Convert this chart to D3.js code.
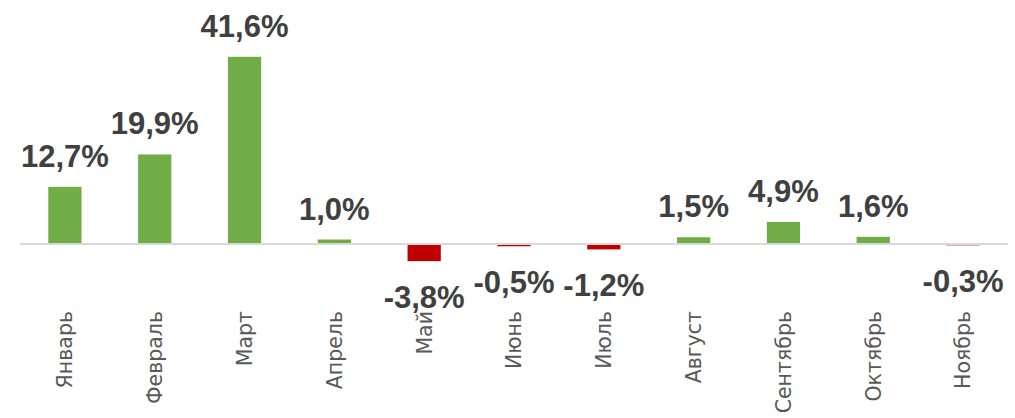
<!DOCTYPE html>
<html>
<head>
<meta charset="utf-8">
<script src="https://cdn.jsdelivr.net/npm/d3@7"></script>
<style>
  body { margin: 0; background: #fff; }
  .lbl { font-family: "Liberation Sans", Arial, sans-serif; font-weight: bold; font-size: 31px; fill: #404040; }
  .cat { font-family: "DejaVu Sans", sans-serif; font-size: 20.5px; fill: #595959; }
</style>
</head>
<body>
<div id="chart"></div>
<script>
"use strict";
// months and monthly change, %
var months = ["Январь", "Февраль", "Март", "Апрель", "Май", "Июнь", "Июль", "Август", "Сентябрь", "Октябрь", "Ноябрь"];
var values = [12.7, 19.9, 41.6, 1.0, -3.8, -0.5, -1.2, 1.5, 4.9, 1.6, -0.3];
var labels = ["12,7%", "19,9%", "41,6%", "1,0%", "-3,8%", "-0,5%", "-1,2%", "1,5%", "4,9%", "1,6%", "-0,3%"];

var w = 1015, h = 418;

var svg = d3.select("#chart").append("svg")
  .attr("width", w)
  .attr("height", h);

var x = d3.scaleBand()
  .domain(months)
  .range([20, 1008])
  .paddingInner(0.63)
  .paddingOuter(0.315);

var y = d3.scaleLinear()
  .domain([-5, 45])
  .range([266.5, 41.5]);

// bars
svg.append("g").selectAll("rect")
  .data(values)
  .enter().append("rect")
  .attr("x", function(d, i) { return x(months[i]); })
  .attr("width", x.bandwidth())
  .attr("y", function(d) { return y(Math.max(0, d)); })
  .attr("height", function(d) { return Math.abs(y(d) - y(0)); })
  .attr("fill", function(d) { return d < 0 ? "#c00000" : "#70ad47"; });

// zero line, drawn over the bars
svg.append("line")
  .attr("x1", 20).attr("x2", 1008)
  .attr("y1", y(0)).attr("y2", y(0))
  .attr("stroke", "#d9d9d9")
  .attr("stroke-width", 2);

// category labels, rotated
svg.append("g").selectAll("text")
  .data(months)
  .enter().append("text")
  .attr("class", "cat")
  .attr("text-anchor", "end")
  .attr("dy", "0.36em")
  .attr("transform", function(d) {
    return "translate(" + (x(d) + x.bandwidth() / 2) + ",311) rotate(-90)";
  })
  .text(function(d) { return d; });

// value labels
svg.append("g").selectAll("text")
  .data(values)
  .enter().append("text")
  .attr("class", "lbl")
  .attr("text-anchor", "middle")
  .attr("x", function(d, i) { return x(months[i]) + x.bandwidth() / 2; })
  .attr("y", function(d) { return d < 0 ? y(d) + 47 : y(d) - 20; })
  .text(function(d, i) { return labels[i]; });
</script>
</body>
</html>
